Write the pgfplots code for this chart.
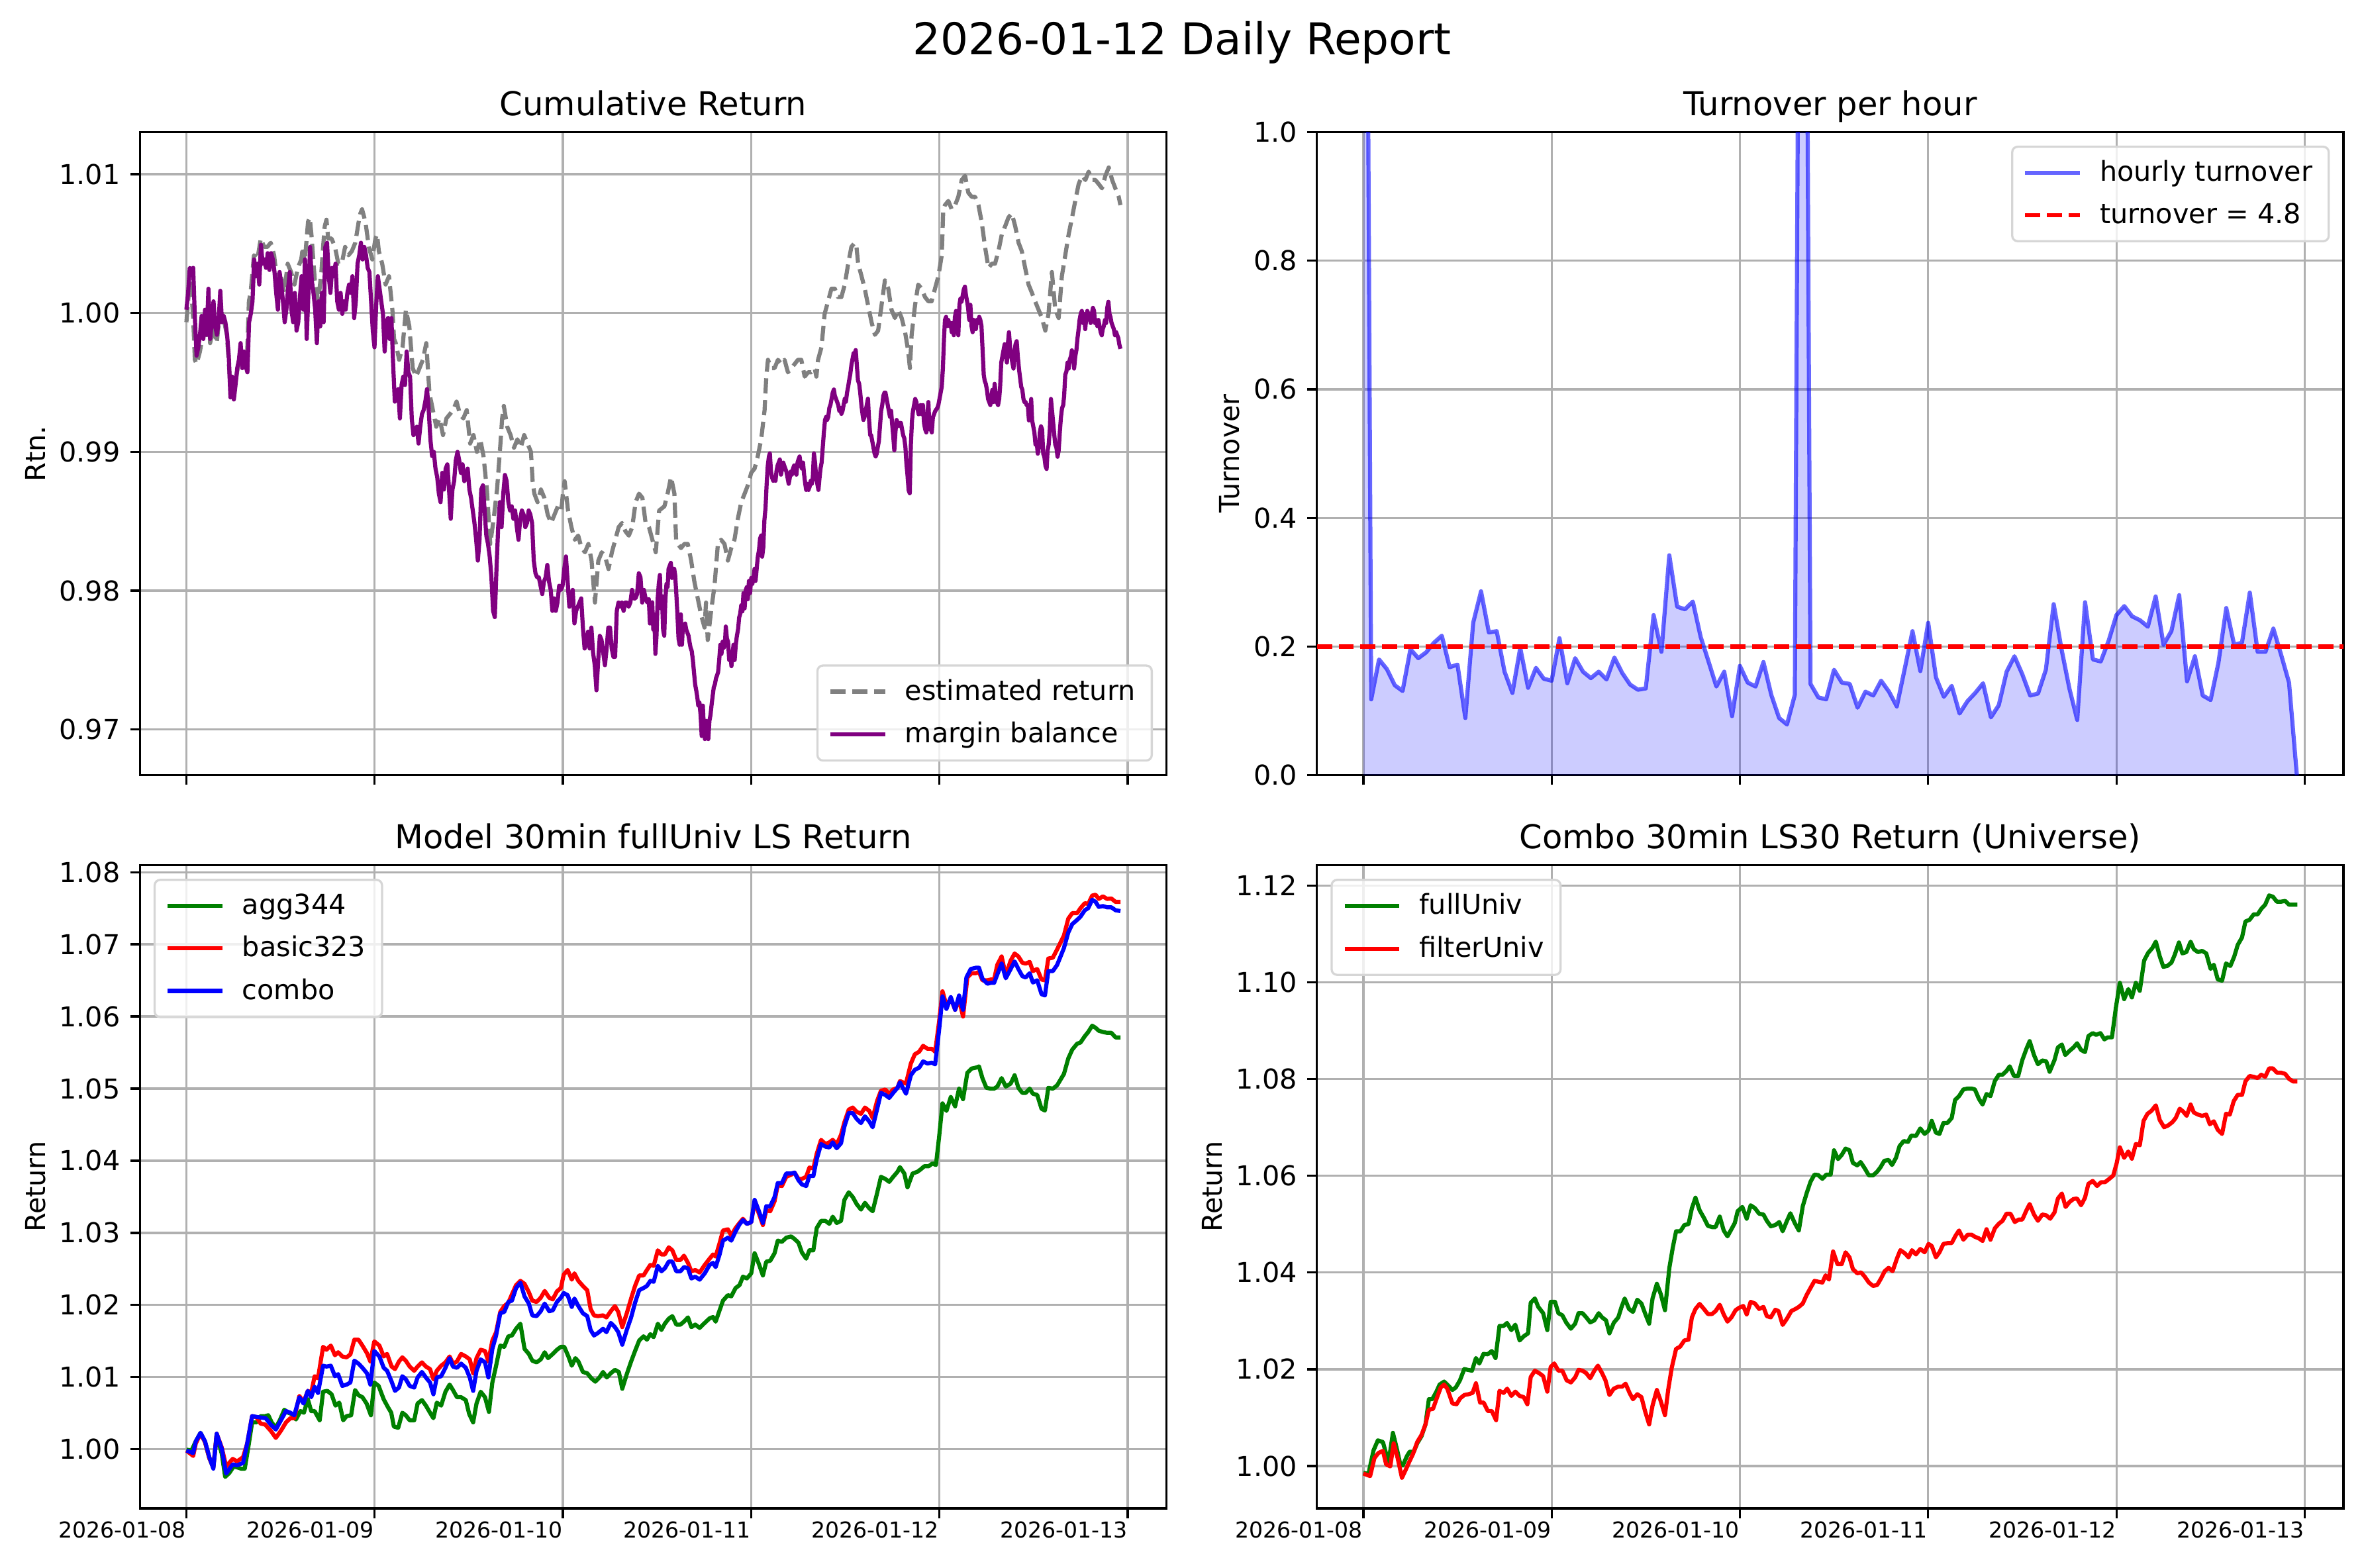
\documentclass[border=0pt]{standalone}
\usepackage{fontspec}
\setmainfont{DejaVu Sans}
\usepackage{pgfplots}
\usepackage{pgfplotstable}
\pgfplotsset{compat=1.18}

\definecolor{gridgray}{HTML}{B0B0B0}
\definecolor{mplpurple}{HTML}{800080}
\definecolor{mplgray}{HTML}{808080}
\definecolor{mplgreen}{HTML}{008000}
\definecolor{legframe}{HTML}{D6D6D6}

% ---------- Cumulative Return ----------
\pgfplotstableread{
d v
0.000 0.99934
0.009 1.00084
0.018 1.00235
0.027 1.00145
0.036 0.99964
0.045 0.99663
0.054 0.99633
0.072 0.99723
0.090 0.99873
0.099 0.99964
0.108 0.99813
0.117 1.00054
0.126 0.99783
0.135 0.99843
0.143 0.99994
0.152 0.99843
0.161 0.99783
0.179 1.00024
0.197 0.99964
0.215 0.99843
0.233 0.99482
0.251 0.99422
0.269 0.99573
0.287 0.99723
0.305 0.99663
0.323 0.99723
0.332 1.00084
0.341 1.00145
0.359 1.00416
0.377 1.00386
0.395 1.00536
0.413 1.00476
0.430 1.00476
0.448 1.00506
0.466 1.00416
0.484 1.00205
0.502 1.00265
0.520 1.00145
0.538 1.00355
0.556 1.00295
0.574 1.00205
0.592 1.00325
0.610 1.00386
0.619 1.00476
0.628 1.00355
0.646 1.00656
0.655 1.00687
0.664 1.00566
0.682 1.00235
0.700 1.00084
0.717 1.00295
0.726 1.00476
0.735 1.00626
0.744 1.00672
0.753 1.00536
0.771 1.00536
0.789 1.00476
0.807 1.00355
0.825 1.00355
0.843 1.00476
0.861 1.00416
0.879 1.00446
0.897 1.00506
0.915 1.00656
0.924 1.00717
0.933 1.00747
0.951 1.00656
0.969 1.00476
0.987 1.00386
1.004 1.00536
1.013 1.00566
1.022 1.00446
1.040 1.00355
1.058 1.00205
1.076 1.00265
1.094 1.00024
1.103 0.99813
1.112 0.99783
1.130 0.99663
1.148 0.99753
1.166 1.00024
1.184 0.99904
1.202 0.99603
1.220 0.99542
1.238 0.99603
1.256 0.99663
1.274 0.99783
1.291 0.99422
1.309 0.99301
1.327 0.99181
1.345 0.99241
1.363 0.99121
1.381 0.99241
1.399 0.99271
1.417 0.99301
1.435 0.99362
1.453 0.99271
1.471 0.99241
1.489 0.99301
1.507 0.99060
1.525 0.99121
1.543 0.99000
1.561 0.99090
1.578 0.98970
1.596 0.98729
1.614 0.98337
1.632 0.98518
1.650 0.98729
1.668 0.99060
1.677 0.99241
1.686 0.99331
1.704 0.99181
1.722 0.99121
1.740 0.99030
1.758 0.99090
1.776 0.99030
1.794 0.99121
1.812 0.99060
1.830 0.99000
1.839 0.98789
1.848 0.98699
1.865 0.98638
1.883 0.98729
1.901 0.98669
1.919 0.98548
1.937 0.98488
1.955 0.98548
1.973 0.98608
1.991 0.98578
2.000 0.98699
2.009 0.98789
2.027 0.98578
2.045 0.98458
2.063 0.98367
2.081 0.98397
2.099 0.98307
2.117 0.98277
2.135 0.98337
2.152 0.98217
2.170 0.97915
2.188 0.98217
2.206 0.98277
2.224 0.98247
2.242 0.98156
2.260 0.98277
2.278 0.98367
2.296 0.98458
2.314 0.98488
2.332 0.98428
2.350 0.98397
2.368 0.98458
2.386 0.98638
2.404 0.98699
2.422 0.98669
2.439 0.98488
2.457 0.98458
2.475 0.98367
2.493 0.98277
2.511 0.98578
2.539 0.98608
2.556 0.98699
2.574 0.98819
2.592 0.98699
2.601 0.98367
2.610 0.98337
2.627 0.98307
2.645 0.98337
2.663 0.98337
2.681 0.98217
2.698 0.98066
2.716 0.97945
2.734 0.97825
2.752 0.97735
2.760 0.97915
2.769 0.97645
2.787 0.97855
2.805 0.98036
2.823 0.98337
2.840 0.98367
2.858 0.98337
2.876 0.98217
2.894 0.98307
2.911 0.98367
2.929 0.98518
2.947 0.98638
2.965 0.98699
2.982 0.98759
3.000 0.98849
3.018 0.98880
3.035 0.98970
3.053 0.99090
3.071 0.99301
3.080 0.99542
3.089 0.99663
3.106 0.99603
3.124 0.99603
3.142 0.99663
3.160 0.99633
3.177 0.99663
3.195 0.99573
3.213 0.99603
3.231 0.99633
3.248 0.99663
3.266 0.99663
3.284 0.99542
3.302 0.99573
3.319 0.99573
3.337 0.99603
3.346 0.99542
3.355 0.99663
3.373 0.99753
3.390 0.99994
3.408 1.00084
3.426 1.00175
3.444 1.00175
3.461 1.00115
3.479 1.00115
3.497 1.00205
3.515 1.00355
3.532 1.00476
3.550 1.00506
3.559 1.00476
3.568 1.00355
3.586 1.00265
3.603 1.00175
3.621 1.00054
3.639 0.99934
3.657 0.99843
3.674 0.99873
3.692 1.00054
3.710 1.00235
3.728 1.00175
3.745 1.00024
3.763 0.99964
3.781 1.00024
3.799 0.99964
3.816 0.99873
3.834 0.99723
3.843 0.99603
3.852 0.99843
3.870 1.00054
3.887 1.00205
3.905 1.00175
3.923 1.00115
3.941 1.00084
3.958 1.00084
3.976 1.00175
3.994 1.00265
4.012 1.00416
4.020 1.00747
4.029 1.00777
4.047 1.00807
4.065 1.00747
4.083 1.00777
4.100 1.00837
4.118 1.00958
4.136 1.00988
4.153 1.00867
4.171 1.00837
4.189 1.00837
4.207 1.00777
4.224 1.00656
4.242 1.00476
4.260 1.00325
4.278 1.00355
4.295 1.00355
4.313 1.00446
4.331 1.00566
4.349 1.00626
4.366 1.00687
4.384 1.00717
4.402 1.00626
4.420 1.00506
4.437 1.00446
4.455 1.00325
4.473 1.00205
4.491 1.00145
4.508 1.00084
4.526 1.00024
4.544 0.99964
4.562 0.99873
4.579 0.99994
4.597 1.00295
4.615 1.00024
4.633 0.99964
4.650 1.00265
4.668 1.00416
4.686 1.00566
4.704 1.00687
4.721 1.00807
4.739 1.00928
4.757 1.00988
4.775 1.00958
4.792 1.01018
4.810 1.00958
4.828 1.00958
4.846 1.00928
4.863 1.00898
4.881 1.00988
4.899 1.01048
4.917 1.00958
4.934 1.00898
4.952 1.00837
4.961 1.00777
}\tlgray

\pgfplotstableread{
d v
0.000 1.00024
0.009 1.00145
0.018 1.00325
0.027 1.00310
0.036 1.00325
0.045 0.99964
0.054 0.99693
0.063 0.99753
0.072 0.99843
0.081 0.99979
0.090 0.99813
0.099 1.00024
0.108 0.99843
0.117 1.00175
0.126 0.99813
0.135 0.99934
0.144 1.00084
0.153 0.99904
0.162 0.99843
0.171 0.99934
0.180 1.00160
0.189 0.99934
0.198 0.99979
0.207 0.99934
0.216 0.99843
0.225 0.99693
0.234 0.99392
0.243 0.99542
0.252 0.99377
0.261 0.99482
0.270 0.99603
0.279 0.99663
0.288 0.99783
0.297 0.99603
0.306 0.99723
0.315 0.99618
0.324 0.99573
0.333 0.99934
0.342 0.99994
0.351 1.00084
0.360 1.00386
0.369 1.00265
0.378 1.00355
0.387 1.00205
0.396 1.00491
0.405 1.00355
0.414 1.00386
0.423 1.00325
0.432 1.00431
0.441 1.00310
0.450 1.00431
0.459 1.00386
0.468 1.00295
0.477 1.00145
0.486 1.00024
0.495 1.00295
0.504 1.00205
0.513 1.00084
0.522 0.99934
0.531 1.00024
0.540 1.00175
0.549 1.00295
0.558 1.00024
0.567 0.99934
0.576 1.00145
0.585 0.99873
0.594 0.99934
0.603 1.00115
0.612 1.00265
0.621 1.00024
0.630 1.00386
0.639 0.99813
0.648 1.00145
0.657 1.00476
0.666 1.00235
0.675 1.00145
0.684 1.00024
0.693 0.99783
0.702 1.00084
0.711 0.99904
0.720 1.00145
0.729 0.99934
0.738 1.00476
0.747 1.00506
0.756 1.00265
0.765 1.00145
0.774 1.00325
0.783 1.00265
0.792 1.00355
0.801 1.00084
0.810 1.00024
0.819 1.00145
0.828 0.99994
0.837 1.00084
0.846 1.00024
0.855 1.00145
0.864 1.00205
0.873 1.00145
0.882 1.00265
0.891 0.99964
0.900 1.00084
0.909 1.00355
0.918 1.00416
0.927 1.00506
0.936 1.00386
0.945 1.00476
0.954 1.00416
0.963 1.00325
0.972 1.00295
0.981 1.00084
0.990 0.99873
0.999 0.99753
1.008 1.00054
1.017 1.00265
1.026 1.00175
1.035 1.00084
1.044 0.99994
1.053 0.99723
1.062 0.99934
1.071 0.99964
1.080 0.99813
1.089 0.99964
1.098 0.99633
1.107 0.99362
1.116 0.99392
1.125 0.99452
1.134 0.99241
1.143 0.99482
1.152 0.99542
1.161 0.99482
1.170 0.99723
1.179 0.99573
1.188 0.99542
1.197 0.99241
1.206 0.99121
1.215 0.99151
1.224 0.99181
1.233 0.99060
1.242 0.99181
1.251 0.99271
1.260 0.99301
1.269 0.99362
1.278 0.99452
1.287 0.99301
1.296 0.99090
1.305 0.98970
1.314 0.99000
1.323 0.98880
1.332 0.98819
1.341 0.98699
1.350 0.98638
1.359 0.98849
1.368 0.98729
1.377 0.98880
1.386 0.98910
1.395 0.98729
1.404 0.98518
1.413 0.98729
1.422 0.98789
1.431 0.98940
1.440 0.99000
1.449 0.98940
1.458 0.98849
1.467 0.98910
1.476 0.98789
1.485 0.98819
1.494 0.98880
1.503 0.98729
1.512 0.98669
1.521 0.98578
1.530 0.98488
1.539 0.98367
1.548 0.98217
1.557 0.98367
1.566 0.98729
1.575 0.98759
1.584 0.98578
1.593 0.98397
1.602 0.98337
1.611 0.98247
1.620 0.98096
1.629 0.97855
1.638 0.97810
1.647 0.98156
1.656 0.98458
1.665 0.98638
1.674 0.98458
1.683 0.98699
1.692 0.98834
1.701 0.98789
1.710 0.98638
1.719 0.98578
1.728 0.98608
1.737 0.98518
1.746 0.98578
1.755 0.98458
1.764 0.98367
1.773 0.98518
1.782 0.98578
1.791 0.98548
1.800 0.98458
1.809 0.98488
1.818 0.98578
1.827 0.98548
1.836 0.98488
1.845 0.98217
1.854 0.98126
1.863 0.98096
1.872 0.98096
1.881 0.98036
1.890 0.97976
1.899 0.98066
1.908 0.98096
1.917 0.98186
1.926 0.98066
1.935 0.98006
1.944 0.97855
1.953 0.97945
1.962 0.97855
1.971 0.97915
1.980 0.98036
1.989 0.98006
1.998 0.98036
2.007 0.98156
2.016 0.98247
2.025 0.98066
2.034 0.97885
2.043 0.97945
2.052 0.98006
2.061 0.97765
2.070 0.97855
2.079 0.97885
2.088 0.97915
2.097 0.97945
2.106 0.97735
2.115 0.97584
2.124 0.97614
2.133 0.97705
2.142 0.97584
2.151 0.97735
2.160 0.97554
2.169 0.97464
2.178 0.97283
2.187 0.97494
2.196 0.97675
2.205 0.97645
2.214 0.97554
2.223 0.97464
2.232 0.97584
2.241 0.97735
2.250 0.97735
2.259 0.97584
2.268 0.97524
2.277 0.97524
2.286 0.97855
2.295 0.97915
2.304 0.97885
2.313 0.97915
2.322 0.97855
2.331 0.97915
2.340 0.97915
2.349 0.97885
2.358 0.97915
2.367 0.98006
2.376 0.97945
2.385 0.97945
2.394 0.97976
2.403 0.98126
2.412 0.98096
2.421 0.97915
2.430 0.98006
2.439 0.97945
2.448 0.97915
2.456 0.97939
2.462 0.97764
2.468 0.97895
2.474 0.97917
2.480 0.97720
2.485 0.97830
2.491 0.97545
2.497 0.97676
2.503 0.97939
2.509 0.98049
2.515 0.98114
2.520 0.97873
2.526 0.97961
2.532 0.97720
2.538 0.97676
2.544 0.97939
2.550 0.98049
2.556 0.98027
2.561 0.98158
2.567 0.98179
2.573 0.98201
2.579 0.98092
2.585 0.98158
2.591 0.98158
2.596 0.98114
2.602 0.97983
2.608 0.97830
2.614 0.97655
2.620 0.97611
2.626 0.97830
2.632 0.97611
2.637 0.97742
2.643 0.97720
2.649 0.97764
2.655 0.97720
2.661 0.97698
2.667 0.97676
2.672 0.97633
2.678 0.97589
2.684 0.97567
2.690 0.97501
2.696 0.97414
2.702 0.97326
2.708 0.97282
2.713 0.97239
2.719 0.97173
2.725 0.97195
2.731 0.97107
2.737 0.96954
2.743 0.97173
2.748 0.97020
2.754 0.96932
2.760 0.97063
2.766 0.96976
2.772 0.96932
2.778 0.97063
2.784 0.97107
2.789 0.97173
2.795 0.97239
2.801 0.97304
2.807 0.97326
2.813 0.97370
2.819 0.97392
2.824 0.97414
2.830 0.97501
2.836 0.97611
2.842 0.97545
2.848 0.97633
2.854 0.97589
2.860 0.97611
2.865 0.97742
2.871 0.97655
2.877 0.97633
2.883 0.97501
2.889 0.97545
2.895 0.97457
2.901 0.97545
2.906 0.97611
2.912 0.97501
2.918 0.97611
2.924 0.97676
2.930 0.97720
2.936 0.97808
2.941 0.97830
2.947 0.97895
2.953 0.97851
2.959 0.97983
2.965 0.97873
2.971 0.98005
2.977 0.98027
2.982 0.97939
2.988 0.98071
2.994 0.97983
3.000 0.98092
3.006 0.98049
3.012 0.98092
3.018 0.98158
3.023 0.98071
3.029 0.98158
3.035 0.98245
3.041 0.98289
3.047 0.98376
3.053 0.98398
3.058 0.98245
3.064 0.98311
3.070 0.98508
3.076 0.98595
3.082 0.98770
3.088 0.98902
3.094 0.98967
3.099 0.98989
3.105 0.98858
3.111 0.98814
3.117 0.98792
3.123 0.98814
3.129 0.98792
3.134 0.98858
3.140 0.98902
3.146 0.98923
3.152 0.98945
3.158 0.98836
3.164 0.98880
3.170 0.98923
3.175 0.98902
3.181 0.98880
3.187 0.98858
3.193 0.98814
3.199 0.98770
3.205 0.98814
3.210 0.98858
3.216 0.98836
3.222 0.98880
3.228 0.98902
3.234 0.98858
3.240 0.98836
3.246 0.98923
3.251 0.98945
3.257 0.98967
3.263 0.98902
3.269 0.98880
3.275 0.98923
3.281 0.98836
3.287 0.98770
3.292 0.98726
3.298 0.98770
3.304 0.98726
3.310 0.98748
3.316 0.98792
3.322 0.98770
3.327 0.98814
3.333 0.98989
3.339 0.98923
3.345 0.98814
3.351 0.98770
3.357 0.98726
3.363 0.98814
3.368 0.98880
3.374 0.98923
3.380 0.99033
3.386 0.99142
3.392 0.99230
3.398 0.99252
3.403 0.99230
3.409 0.99252
3.415 0.99317
3.421 0.99339
3.427 0.99383
3.433 0.99427
3.439 0.99449
3.444 0.99405
3.450 0.99383
3.456 0.99361
3.462 0.99339
3.468 0.99295
3.474 0.99317
3.479 0.99274
3.485 0.99295
3.491 0.99339
3.497 0.99383
3.503 0.99361
3.509 0.99427
3.515 0.99470
3.520 0.99514
3.526 0.99558
3.532 0.99624
3.538 0.99668
3.544 0.99711
3.550 0.99711
3.555 0.99733
3.561 0.99624
3.567 0.99514
3.573 0.99492
3.579 0.99427
3.585 0.99339
3.591 0.99274
3.596 0.99230
3.602 0.99252
3.608 0.99295
3.614 0.99339
3.620 0.99383
3.626 0.99230
3.632 0.99120
3.637 0.99120
3.643 0.99077
3.649 0.99033
3.655 0.98989
3.661 0.98967
3.667 0.98989
3.672 0.99033
3.678 0.99077
3.684 0.99186
3.690 0.99295
3.696 0.99339
3.702 0.99405
3.708 0.99427
3.713 0.99427
3.719 0.99383
3.725 0.99339
3.731 0.99295
3.737 0.99252
3.743 0.99295
3.748 0.99208
3.754 0.99120
3.760 0.99011
3.766 0.99142
3.772 0.99230
3.778 0.99208
3.784 0.99186
3.789 0.99208
3.795 0.99208
3.801 0.99164
3.807 0.99120
3.813 0.99098
3.819 0.99033
3.824 0.98923
3.830 0.98834
3.836 0.98724
3.842 0.98702
3.848 0.99052
3.854 0.99227
3.859 0.99293
3.865 0.99337
3.871 0.99381
3.877 0.99359
3.883 0.99315
3.889 0.99271
3.895 0.99293
3.900 0.99337
3.906 0.99271
3.912 0.99337
3.918 0.99206
3.924 0.99162
3.930 0.99140
3.936 0.99271
3.941 0.99359
3.947 0.99162
3.953 0.99206
3.959 0.99140
3.965 0.99249
3.971 0.99271
3.977 0.99293
3.982 0.99304
3.988 0.99315
3.994 0.99337
4.000 0.99381
4.006 0.99425
4.012 0.99469
4.018 0.99600
4.024 0.99818
4.029 0.99950
4.035 0.99972
4.041 0.99906
4.047 0.99950
4.053 0.99906
4.059 0.99928
4.065 0.99862
4.070 0.99928
4.076 0.99840
4.082 0.99972
4.088 1.00015
4.094 0.99993
4.100 0.99840
4.106 1.00059
4.111 1.00103
4.117 1.00081
4.123 1.00125
4.129 1.00169
4.135 1.00190
4.141 1.00125
4.147 1.00081
4.152 1.00037
4.158 0.99950
4.164 1.00059
4.170 0.99906
4.176 0.99862
4.182 0.99950
4.188 0.99928
4.193 0.99884
4.199 0.99950
4.205 0.99928
4.211 0.99972
4.217 0.99950
4.223 0.99906
4.229 0.99731
4.235 0.99556
4.240 0.99512
4.246 0.99490
4.252 0.99447
4.258 0.99381
4.264 0.99359
4.270 0.99337
4.276 0.99403
4.281 0.99447
4.287 0.99359
4.293 0.99490
4.299 0.99403
4.305 0.99359
4.311 0.99337
4.317 0.99381
4.322 0.99469
4.328 0.99643
4.334 0.99687
4.340 0.99731
4.346 0.99775
4.352 0.99709
4.358 0.99643
4.363 0.99775
4.369 0.99862
4.375 0.99753
4.381 0.99687
4.387 0.99643
4.393 0.99600
4.399 0.99731
4.404 0.99775
4.410 0.99797
4.416 0.99687
4.422 0.99600
4.428 0.99534
4.434 0.99469
4.440 0.99447
4.446 0.99381
4.451 0.99359
4.457 0.99359
4.463 0.99337
4.469 0.99337
4.475 0.99227
4.481 0.99249
4.487 0.99381
4.492 0.99227
4.498 0.99184
4.504 0.99140
4.510 0.99052
4.516 0.99074
4.522 0.98987
4.528 0.99031
4.533 0.99140
4.539 0.99184
4.545 0.99162
4.551 0.98987
4.557 0.98965
4.563 0.98899
4.569 0.98877
4.574 0.99009
4.580 0.99052
4.586 0.99162
4.592 0.99381
4.598 0.99293
4.604 0.99206
4.610 0.99118
4.615 0.99052
4.621 0.99031
4.627 0.98965
4.633 0.99009
4.639 0.99140
4.645 0.99249
4.651 0.99315
4.657 0.99337
4.662 0.99403
4.668 0.99556
4.674 0.99578
4.680 0.99643
4.686 0.99600
4.692 0.99665
4.698 0.99687
4.703 0.99731
4.709 0.99709
4.715 0.99600
4.721 0.99687
4.727 0.99731
4.733 0.99818
4.739 0.99884
4.744 0.99950
4.750 0.99993
4.756 1.00015
4.762 0.99928
4.768 0.99993
4.774 0.99884
4.780 0.99972
4.785 1.00015
4.791 0.99993
4.797 0.99972
4.803 0.99928
4.809 0.99993
4.815 1.00037
4.821 1.00015
4.826 0.99928
4.832 0.99950
4.838 0.99906
4.844 0.99950
4.850 0.99906
4.856 0.99862
4.862 0.99840
4.867 0.99884
4.873 0.99906
4.879 0.99950
4.885 0.99928
4.891 1.00037
4.897 1.00081
4.903 0.99993
4.908 0.99972
4.914 0.99928
4.920 0.99906
4.926 0.99884
4.932 0.99840
4.938 0.99862
4.944 0.99840
4.950 0.99818
4.955 0.99775
4.961 0.99742
}\tlpurple

% ---------- Turnover per hour ----------
\pgfplotstableread{
d t
0.0000 2.5
0.0417 0.118
0.0833 0.180
0.1250 0.165
0.1667 0.140
0.2083 0.131
0.2500 0.196
0.2917 0.182
0.3333 0.191
0.3750 0.206
0.4167 0.217
0.4583 0.168
0.5000 0.172
0.5417 0.089
0.5833 0.237
0.6250 0.286
0.6667 0.222
0.7083 0.224
0.7500 0.161
0.7917 0.128
0.8333 0.198
0.8750 0.136
0.9167 0.167
0.9583 0.150
1.0000 0.147
1.0417 0.213
1.0833 0.143
1.1250 0.182
1.1667 0.161
1.2083 0.151
1.2500 0.161
1.2917 0.149
1.3333 0.183
1.3750 0.159
1.4167 0.141
1.4583 0.133
1.5000 0.135
1.5417 0.249
1.5833 0.192
1.6250 0.342
1.6667 0.262
1.7083 0.258
1.7500 0.270
1.7917 0.215
1.8333 0.177
1.8750 0.138
1.9167 0.161
1.9583 0.092
2.0000 0.170
2.0417 0.144
2.0833 0.138
2.1250 0.176
2.1667 0.125
2.2083 0.089
2.2500 0.079
2.2917 0.125
2.3333 2.5
2.3750 0.142
2.4167 0.121
2.4583 0.118
2.5000 0.164
2.5417 0.144
2.5833 0.142
2.6250 0.105
2.6667 0.130
2.7083 0.124
2.7500 0.147
2.7917 0.130
2.8333 0.107
2.8750 0.165
2.9167 0.224
2.9583 0.162
3.0000 0.237
3.0417 0.152
3.0833 0.122
3.1250 0.139
3.1667 0.096
3.2083 0.115
3.2500 0.128
3.2917 0.143
3.3333 0.090
3.3750 0.109
3.4167 0.161
3.4583 0.185
3.5000 0.157
3.5417 0.124
3.5833 0.127
3.6250 0.164
3.6667 0.266
3.7083 0.196
3.7500 0.135
3.7917 0.086
3.8333 0.269
3.8750 0.180
3.9167 0.177
3.9583 0.209
4.0000 0.249
4.0417 0.263
4.0833 0.247
4.1250 0.241
4.1667 0.231
4.2083 0.278
4.2500 0.203
4.2917 0.224
4.3333 0.280
4.3750 0.146
4.4167 0.185
4.4583 0.124
4.5000 0.117
4.5417 0.175
4.5833 0.260
4.6250 0.203
4.6667 0.206
4.7083 0.284
4.7500 0.192
4.7917 0.192
4.8333 0.228
4.8750 0.187
4.9167 0.144
4.9583 0
}\turn

% ---------- Model 30min fullUniv LS Return ----------
\pgfplotstableread{
d v
0 0.99994
0.027 0.99982
0.050 1.00110
0.075 1.00227
0.099 1.00099
0.122 0.99874
0.143 0.99749
0.161 1.00198
0.188 0.99936
0.206 0.99616
0.229 0.99674
0.251 0.99761
0.269 0.99749
0.290 0.99731
0.310 0.99731
0.332 1.00081
0.349 1.00372
0.373 1.00372
0.394 1.00459
0.418 1.00459
0.435 1.00471
0.453 1.00372
0.475 1.00297
0.498 1.00413
0.520 1.00547
0.541 1.00506
0.559 1.00489
0.582 1.00413
0.606 1.00529
0.624 1.00506
0.645 1.00692
0.663 1.00529
0.681 1.00529
0.708 1.00401
0.726 1.00797
0.749 1.00809
0.771 1.00762
0.792 1.00605
0.812 1.00646
0.833 1.00401
0.851 1.00459
0.875 1.00471
0.896 1.00820
0.914 1.00750
0.935 1.00721
0.957 1.00634
0.980 1.00471
0.998 1.00925
1.021 1.00878
1.048 1.00692
1.072 1.00576
1.088 1.00506
1.102 1.00314
1.125 1.00297
1.147 1.00506
1.165 1.00471
1.186 1.00401
1.210 1.00401
1.228 1.00634
1.251 1.00681
1.272 1.00605
1.294 1.00506
1.312 1.00430
1.330 1.00646
1.353 1.00605
1.376 1.00797
1.398 1.00896
1.416 1.00820
1.437 1.00721
1.459 1.00721
1.484 1.00681
1.502 1.00489
1.523 1.00372
1.541 1.00634
1.563 1.00797
1.586 1.00721
1.607 1.00518
1.625 1.00925
1.645 1.01158
1.667 1.01437
1.688 1.01420
1.710 1.01565
1.729 1.01577
1.751 1.01670
1.774 1.01740
1.796 1.01391
1.819 1.01321
1.837 1.01228
1.860 1.01204
1.882 1.01245
1.903 1.01344
1.921 1.01263
1.946 1.01321
1.968 1.01379
1.989 1.01420
2.007 1.01420
2.029 1.01286
2.047 1.01158
2.066 1.01263
2.082 1.01216
2.106 1.01071
2.129 1.01053
2.151 1.00983
2.172 1.00937
2.194 1.00995
2.213 1.01071
2.233 1.00995
2.254 1.01053
2.276 1.01100
2.297 1.01071
2.315 1.00838
2.339 1.01041
2.362 1.01216
2.383 1.01362
2.405 1.01507
2.428 1.01565
2.446 1.01519
2.464 1.01595
2.482 1.01554
2.504 1.01740
2.523 1.01653
2.541 1.01740
2.562 1.01810
2.581 1.01845
2.602 1.01728
2.624 1.01728
2.643 1.01769
2.664 1.01827
2.682 1.01693
2.703 1.01728
2.726 1.01682
2.753 1.01751
2.779 1.01815
2.797 1.01833
2.811 1.01769
2.832 1.01926
2.850 1.02060
2.876 1.02136
2.894 1.02119
2.917 1.02235
2.938 1.02276
2.956 1.02392
2.977 1.02368
3.000 1.02438
3.018 1.02718
3.041 1.02566
3.062 1.02409
3.080 1.02601
3.101 1.02613
3.124 1.02718
3.141 1.02892
3.163 1.02875
3.186 1.02933
3.212 1.02950
3.230 1.02915
3.251 1.02863
3.269 1.02729
3.292 1.02642
3.309 1.02758
3.330 1.02758
3.348 1.03067
3.371 1.03166
3.394 1.03166
3.415 1.03125
3.433 1.03224
3.454 1.03137
3.477 1.03166
3.495 1.03457
3.518 1.03562
3.539 1.03498
3.560 1.03399
3.583 1.03323
3.604 1.03416
3.627 1.03340
3.645 1.03300
3.668 1.03544
3.689 1.03777
3.712 1.03748
3.733 1.03707
3.754 1.03777
3.777 1.03847
3.790 1.03911
3.813 1.03823
3.830 1.03631
3.857 1.03823
3.883 1.03847
3.901 1.03882
3.919 1.03923
3.942 1.03923
3.963 1.03963
3.981 1.03940
3.998 1.04330
4.016 1.04795
4.037 1.04691
4.060 1.04883
4.083 1.04754
4.104 1.04999
4.125 1.04853
4.148 1.05220
4.171 1.05278
4.193 1.05290
4.210 1.05307
4.228 1.05145
4.249 1.05011
4.272 1.04999
4.290 1.04999
4.307 1.05028
4.330 1.05145
4.352 1.05028
4.378 1.05069
4.399 1.05185
4.419 1.05011
4.440 1.04941
4.458 1.04941
4.479 1.04999
4.496 1.04929
4.519 1.04912
4.542 1.04720
4.560 1.04696
4.578 1.05011
4.602 1.04999
4.625 1.05046
4.661 1.05203
4.684 1.05418
4.705 1.05540
4.731 1.05622
4.749 1.05639
4.772 1.05727
4.790 1.05785
4.811 1.05872
4.829 1.05843
4.846 1.05802
4.868 1.05785
4.890 1.05773
4.913 1.05773
4.935 1.05710
4.961 1.05710
}\blgreen

\pgfplotstableread{
d v
0 0.99982
0.036 0.99907
0.050 1.00081
0.075 1.00215
0.099 1.00099
0.122 0.99874
0.143 0.99749
0.161 1.00215
0.188 1.00023
0.211 0.99761
0.246 0.99866
0.269 0.99831
0.301 0.99889
0.323 1.00081
0.349 1.00459
0.373 1.00442
0.394 1.00355
0.418 1.00343
0.448 1.00256
0.475 1.00157
0.502 1.00256
0.529 1.00372
0.552 1.00430
0.573 1.00430
0.600 1.00739
0.622 1.00651
0.645 1.00809
0.663 1.00780
0.681 1.01012
0.699 1.00983
0.726 1.01420
0.744 1.01379
0.767 1.01437
0.789 1.01303
0.806 1.01344
0.828 1.01286
0.851 1.01274
0.871 1.01315
0.892 1.01519
0.914 1.01519
0.935 1.01437
0.959 1.01332
0.977 1.01216
0.998 1.01495
1.025 1.01437
1.048 1.01286
1.066 1.01321
1.090 1.01146
1.108 1.01111
1.129 1.01216
1.147 1.01274
1.165 1.01228
1.186 1.01146
1.210 1.01088
1.228 1.01146
1.251 1.01204
1.272 1.01146
1.294 1.01111
1.312 1.00972
1.330 1.01088
1.353 1.01158
1.376 1.01204
1.398 1.01286
1.416 1.01187
1.437 1.01216
1.459 1.01321
1.484 1.01286
1.505 1.01245
1.523 1.01053
1.541 1.01263
1.563 1.01379
1.586 1.01362
1.604 1.01216
1.625 1.01507
1.645 1.01623
1.667 1.01903
1.688 1.01984
1.710 1.02031
1.729 1.02147
1.751 1.02275
1.774 1.02334
1.796 1.02293
1.819 1.02176
1.837 1.02060
1.860 1.02042
1.882 1.02101
1.903 1.02194
1.927 1.02101
1.946 1.02077
1.968 1.02188
1.989 1.02235
2.004 1.02421
2.025 1.02485
2.047 1.02351
2.061 1.02438
2.082 1.02334
2.106 1.02264
2.129 1.02205
2.147 1.01944
2.165 1.01856
2.186 1.01845
2.213 1.01856
2.231 1.01827
2.254 1.01914
2.276 1.01984
2.294 1.01903
2.315 1.01693
2.339 1.01885
2.362 1.02089
2.383 1.02264
2.405 1.02409
2.428 1.02409
2.446 1.02485
2.464 1.02555
2.482 1.02543
2.504 1.02758
2.523 1.02700
2.541 1.02700
2.562 1.02799
2.581 1.02758
2.602 1.02624
2.624 1.02624
2.643 1.02683
2.664 1.02584
2.682 1.02467
2.703 1.02485
2.726 1.02450
2.753 1.02555
2.779 1.02642
2.797 1.02700
2.811 1.02671
2.832 1.02857
2.850 1.03032
2.876 1.03049
2.894 1.02962
2.917 1.03067
2.938 1.03137
2.956 1.03195
2.977 1.03125
3.000 1.03148
3.018 1.03428
3.041 1.03265
3.062 1.03108
3.080 1.03312
3.101 1.03300
3.124 1.03439
3.141 1.03660
3.163 1.03649
3.186 1.03777
3.212 1.03806
3.230 1.03835
3.251 1.03748
3.269 1.03748
3.292 1.03777
3.309 1.03905
3.330 1.03893
3.348 1.04097
3.371 1.04289
3.394 1.04231
3.415 1.04254
3.433 1.04289
3.454 1.04225
3.477 1.04359
3.495 1.04533
3.518 1.04708
3.539 1.04737
3.560 1.04679
3.583 1.04650
3.604 1.04737
3.627 1.04691
3.645 1.04592
3.668 1.04824
3.689 1.04970
3.712 1.04987
3.733 1.04929
3.754 1.04987
3.777 1.05011
3.790 1.05104
3.822 1.05069
3.848 1.05348
3.869 1.05476
3.892 1.05511
3.913 1.05593
3.936 1.05552
3.959 1.05552
3.977 1.05511
3.998 1.05930
4.016 1.06349
4.037 1.06151
4.060 1.06250
4.083 1.06093
4.104 1.06233
4.125 1.06000
4.148 1.06541
4.171 1.06600
4.193 1.06600
4.210 1.06617
4.228 1.06501
4.254 1.06501
4.272 1.06512
4.290 1.06512
4.307 1.06716
4.330 1.06832
4.352 1.06570
4.378 1.06774
4.399 1.06873
4.419 1.06832
4.440 1.06745
4.458 1.06733
4.479 1.06757
4.496 1.06629
4.519 1.06658
4.542 1.06512
4.560 1.06501
4.578 1.06803
4.602 1.06815
4.625 1.06931
4.661 1.07123
4.684 1.07356
4.705 1.07432
4.731 1.07432
4.749 1.07502
4.772 1.07571
4.790 1.07560
4.811 1.07676
4.829 1.07688
4.846 1.07630
4.868 1.07665
4.890 1.07630
4.913 1.07635
4.935 1.07589
4.961 1.07589
}\blred

\pgfplotstableread{
d v
0 0.99982
0.036 0.99947
0.050 1.00110
0.075 1.00227
0.099 1.00110
0.122 0.99889
0.143 0.99731
0.161 1.00215
0.188 1.00005
0.211 0.99662
0.246 0.99790
0.269 0.99778
0.301 0.99808
0.323 1.00081
0.349 1.00459
0.373 1.00448
0.421 1.00430
0.448 1.00343
0.475 1.00273
0.502 1.00401
0.529 1.00529
0.552 1.00506
0.573 1.00471
0.600 1.00721
0.622 1.00634
0.645 1.00809
0.663 1.00721
0.681 1.00867
0.699 1.00780
0.726 1.01158
0.744 1.01146
0.767 1.01158
0.789 1.01012
0.806 1.01041
0.828 1.00878
0.851 1.00896
0.871 1.00925
0.892 1.01228
0.914 1.01187
0.935 1.01129
0.959 1.01053
0.977 1.00896
0.998 1.01362
1.025 1.01286
1.048 1.01129
1.066 1.01088
1.090 1.00937
1.108 1.00809
1.129 1.00855
1.147 1.01012
1.165 1.00972
1.186 1.00878
1.210 1.00855
1.228 1.00995
1.251 1.01071
1.272 1.00995
1.294 1.00925
1.312 1.00762
1.330 1.00995
1.353 1.01012
1.376 1.01129
1.398 1.01263
1.416 1.01146
1.437 1.01129
1.459 1.01187
1.484 1.01129
1.505 1.00995
1.523 1.00809
1.541 1.01088
1.563 1.01245
1.586 1.01204
1.604 1.00995
1.625 1.01391
1.645 1.01577
1.667 1.01885
1.688 1.01903
1.710 1.02042
1.729 1.02060
1.751 1.02235
1.774 1.02310
1.796 1.02118
1.819 1.02019
1.837 1.01856
1.860 1.01845
1.882 1.01914
1.903 1.02019
1.927 1.01914
1.946 1.01926
1.968 1.02042
1.989 1.02101
2.004 1.02165
2.025 1.02136
2.047 1.01973
2.061 1.02089
2.082 1.01984
2.106 1.01885
2.129 1.01845
2.147 1.01653
2.165 1.01577
2.186 1.01612
2.213 1.01670
2.231 1.01623
2.254 1.01751
2.276 1.01693
2.294 1.01623
2.315 1.01449
2.339 1.01653
2.362 1.01827
2.383 1.02031
2.405 1.02205
2.428 1.02235
2.446 1.02264
2.464 1.02334
2.482 1.02322
2.504 1.02543
2.523 1.02467
2.541 1.02508
2.562 1.02601
2.581 1.02601
2.602 1.02467
2.624 1.02467
2.643 1.02525
2.664 1.02508
2.682 1.02368
2.703 1.02392
2.726 1.02351
2.753 1.02438
2.779 1.02555
2.797 1.02584
2.811 1.02525
2.832 1.02700
2.850 1.02892
2.876 1.02933
2.894 1.02892
2.917 1.03020
2.938 1.03119
2.956 1.03177
2.977 1.03125
3.000 1.03148
3.018 1.03457
3.041 1.03300
3.062 1.03137
3.080 1.03369
3.101 1.03369
3.124 1.03497
3.141 1.03690
3.163 1.03690
3.186 1.03823
3.212 1.03823
3.230 1.03835
3.251 1.03730
3.269 1.03672
3.292 1.03649
3.309 1.03788
3.330 1.03788
3.348 1.04021
3.371 1.04231
3.394 1.04196
3.415 1.04184
3.433 1.04254
3.454 1.04173
3.477 1.04242
3.495 1.04475
3.518 1.04661
3.539 1.04661
3.560 1.04580
3.583 1.04522
3.604 1.04615
3.627 1.04545
3.645 1.04464
3.668 1.04708
3.689 1.04941
3.712 1.04912
3.733 1.04871
3.754 1.04941
3.777 1.05011
3.790 1.05087
3.822 1.04929
3.848 1.05185
3.869 1.05261
3.892 1.05290
3.913 1.05377
3.936 1.05348
3.959 1.05360
3.977 1.05337
3.998 1.05814
4.016 1.06279
4.037 1.06105
4.060 1.06268
4.083 1.06093
4.104 1.06291
4.125 1.06093
4.143 1.06541
4.166 1.06658
4.193 1.06675
4.210 1.06675
4.228 1.06524
4.254 1.06454
4.272 1.06466
4.290 1.06466
4.307 1.06582
4.330 1.06733
4.352 1.06530
4.378 1.06658
4.399 1.06763
4.419 1.06658
4.440 1.06559
4.458 1.06541
4.479 1.06600
4.496 1.06471
4.519 1.06501
4.542 1.06309
4.560 1.06291
4.578 1.06629
4.602 1.06629
4.625 1.06716
4.661 1.06949
4.684 1.07164
4.705 1.07280
4.731 1.07339
4.749 1.07385
4.772 1.07473
4.790 1.07502
4.811 1.07618
4.829 1.07589
4.846 1.07519
4.868 1.07531
4.890 1.07513
4.913 1.07513
4.935 1.07473
4.961 1.07461
}\blblue

% ---------- Combo 30min LS30 Return (Universe) ----------
\pgfplotstableread{
d v
0 0.99861
0.027 0.99835
0.054 1.00322
0.077 1.00530
0.104 1.00495
0.116 1.00322
0.134 1.00078
0.157 1.00686
0.179 1.00339
0.196 1.00035
0.209 1.00009
0.232 1.00209
0.246 1.00296
0.268 1.00296
0.286 1.00469
0.309 1.00617
0.330 1.00860
0.348 1.01381
0.366 1.01381
0.388 1.01537
0.405 1.01684
0.429 1.01745
0.452 1.01658
0.473 1.01572
0.491 1.01624
0.513 1.01771
0.536 1.02006
0.554 1.01988
0.577 1.01971
0.598 1.02232
0.616 1.02119
0.638 1.02318
0.661 1.02310
0.682 1.02378
0.702 1.02232
0.723 1.02896
0.745 1.02896
0.763 1.02957
0.786 1.02810
0.807 1.02922
0.830 1.02596
0.852 1.02682
0.875 1.02743
0.889 1.03377
0.911 1.03464
0.929 1.03290
0.955 1.03160
0.977 1.02810
0.995 1.03394
1.018 1.03394
1.036 1.03160
1.057 1.03116
1.077 1.02969
1.102 1.02838
1.125 1.02943
1.143 1.03160
1.164 1.03160
1.184 1.03073
1.205 1.02969
1.227 1.03012
1.250 1.03160
1.268 1.03073
1.289 1.03012
1.307 1.02743
1.330 1.02961
1.354 1.03073
1.370 1.03273
1.388 1.03464
1.411 1.03247
1.432 1.03186
1.455 1.03438
1.477 1.03360
1.496 1.03160
1.518 1.02943
1.536 1.03464
1.559 1.03768
1.580 1.03551
1.602 1.03221
1.625 1.04089
1.643 1.04506
1.661 1.04853
1.684 1.04853
1.705 1.04983
1.727 1.05000
1.745 1.05330
1.764 1.05547
1.786 1.05287
1.809 1.05130
1.830 1.04966
1.852 1.04940
1.871 1.04940
1.893 1.05157
1.914 1.04870
1.934 1.04749
1.955 1.04896
1.973 1.05026
1.988 1.05269
2.013 1.05356
2.036 1.05113
2.057 1.05391
2.080 1.05330
2.102 1.05217
2.125 1.05200
2.143 1.05070
2.164 1.04957
2.188 1.04983
2.209 1.05044
2.227 1.04853
2.250 1.05070
2.268 1.05226
2.291 1.05026
2.313 1.04870
2.334 1.05374
2.354 1.05634
2.375 1.05877
2.396 1.06024
2.416 1.06016
2.438 1.05938
2.459 1.06024
2.482 1.06024
2.500 1.06528
2.521 1.06346
2.541 1.06433
2.561 1.06563
2.582 1.06528
2.600 1.06268
2.623 1.06216
2.641 1.06285
2.663 1.06155
2.685 1.06008
2.707 1.06008
2.729 1.06086
2.746 1.06172
2.767 1.06311
2.790 1.06328
2.808 1.06224
2.829 1.06372
2.848 1.06615
2.870 1.06719
2.893 1.06702
2.910 1.06832
2.935 1.06823
2.958 1.06979
2.981 1.06867
3.002 1.06936
3.019 1.07136
3.041 1.06893
3.060 1.06867
3.081 1.07092
3.102 1.07092
3.125 1.07196
3.143 1.07570
3.164 1.07648
3.187 1.07787
3.210 1.07804
3.231 1.07804
3.248 1.07787
3.270 1.07587
3.289 1.07474
3.310 1.07691
3.331 1.07648
3.354 1.07960
3.375 1.08090
3.395 1.08090
3.416 1.08169
3.433 1.08264
3.456 1.08064
3.478 1.08064
3.500 1.08394
3.522 1.08628
3.539 1.08785
3.562 1.08498
3.583 1.08307
3.606 1.08385
3.627 1.08368
3.645 1.08151
3.671 1.08394
3.689 1.08654
3.710 1.08715
3.728 1.08498
3.751 1.08585
3.772 1.08654
3.791 1.08741
3.812 1.08602
3.833 1.08559
3.851 1.08889
3.874 1.08950
3.892 1.08915
3.915 1.08950
3.936 1.08820
3.953 1.08863
3.976 1.08863
3.997 1.09479
4.018 1.09991
4.041 1.09653
4.063 1.09861
4.082 1.09688
4.103 1.09991
4.124 1.09826
4.147 1.10451
4.168 1.10608
4.191 1.10712
4.209 1.10842
4.230 1.10538
4.249 1.10321
4.270 1.10339
4.292 1.10408
4.309 1.10564
4.332 1.10825
4.350 1.10599
4.371 1.10625
4.394 1.10842
4.411 1.10686
4.433 1.10625
4.455 1.10651
4.477 1.10599
4.500 1.10278
4.517 1.10365
4.538 1.10061
4.561 1.10035
4.582 1.10391
4.605 1.10339
4.626 1.10538
4.644 1.10773
4.667 1.10929
4.685 1.11259
4.707 1.11293
4.729 1.11406
4.750 1.11406
4.769 1.11519
4.790 1.11606
4.811 1.11797
4.831 1.11771
4.852 1.11667
4.873 1.11667
4.896 1.11684
4.917 1.11606
4.938 1.11606
4.961 1.11606
}\brgreen

\pgfplotstableread{
d v
0 0.99844
0.036 0.99792
0.059 1.00165
0.080 1.00269
0.104 1.00313
0.121 1.00035
0.143 0.99992
0.161 1.00469
0.182 1.00165
0.205 0.99757
0.223 0.99905
0.245 1.00096
0.264 1.00252
0.286 1.00495
0.309 1.00643
0.330 1.00860
0.348 1.01164
0.370 1.01181
0.388 1.01381
0.411 1.01624
0.429 1.01684
0.446 1.01598
0.473 1.01294
0.495 1.01277
0.514 1.01398
0.536 1.01468
0.559 1.01485
0.580 1.01511
0.598 1.01711
0.620 1.01311
0.639 1.01311
0.661 1.01138
0.682 1.01138
0.705 1.00947
0.723 1.01554
0.745 1.01511
0.764 1.01598
0.786 1.01450
0.807 1.01537
0.830 1.01450
0.852 1.01424
0.871 1.01277
0.889 1.01840
0.911 1.01971
0.934 1.01919
0.955 1.01858
0.977 1.01537
0.995 1.02049
1.014 1.02119
1.036 1.01971
1.057 1.01971
1.080 1.01771
1.102 1.01728
1.125 1.01832
1.143 1.01988
1.164 1.01971
1.184 1.01919
1.205 1.01815
1.227 1.01971
1.246 1.02075
1.268 1.01919
1.286 1.01771
1.307 1.01468
1.330 1.01598
1.354 1.01641
1.375 1.01641
1.393 1.01702
1.414 1.01511
1.432 1.01381
1.455 1.01485
1.477 1.01424
1.496 1.01138
1.518 1.00860
1.536 1.01251
1.559 1.01572
1.580 1.01337
1.602 1.01051
1.620 1.01598
1.638 1.02032
1.661 1.02422
1.682 1.02466
1.705 1.02596
1.727 1.02613
1.745 1.03073
1.764 1.03247
1.786 1.03351
1.809 1.03247
1.830 1.03143
1.852 1.03143
1.871 1.03204
1.893 1.03334
1.914 1.03134
1.934 1.02986
1.955 1.03073
1.977 1.03221
1.996 1.03273
2.018 1.03308
2.036 1.03134
2.057 1.03394
2.080 1.03360
2.102 1.03247
2.125 1.03290
2.143 1.03099
2.164 1.03073
2.188 1.03230
2.205 1.03204
2.227 1.02917
2.250 1.03047
2.273 1.03204
2.295 1.03247
2.313 1.03290
2.334 1.03360
2.354 1.03533
2.375 1.03681
2.396 1.03828
2.416 1.03811
2.438 1.03794
2.455 1.03941
2.473 1.03855
2.495 1.04436
2.518 1.04176
2.541 1.04176
2.561 1.04419
2.582 1.04315
2.600 1.04072
2.623 1.03985
2.644 1.04002
2.663 1.03915
2.685 1.03794
2.707 1.03724
2.729 1.03742
2.750 1.03881
2.769 1.04028
2.790 1.04098
2.811 1.04028
2.834 1.04289
2.852 1.04462
2.875 1.04402
2.896 1.04315
2.914 1.04462
2.935 1.04375
2.958 1.04488
2.981 1.04419
3.002 1.04592
3.019 1.04549
3.041 1.04315
3.060 1.04419
3.081 1.04592
3.104 1.04610
3.125 1.04610
3.146 1.04766
3.164 1.04870
3.187 1.04679
3.210 1.04783
3.231 1.04783
3.248 1.04740
3.270 1.04705
3.289 1.04653
3.310 1.04896
3.331 1.04679
3.354 1.04914
3.375 1.05009
3.395 1.05070
3.416 1.05217
3.437 1.05217
3.460 1.05044
3.481 1.05096
3.500 1.05096
3.522 1.05287
3.539 1.05417
3.562 1.05200
3.583 1.05070
3.606 1.05200
3.627 1.05183
3.648 1.05113
3.671 1.05243
3.689 1.05530
3.710 1.05634
3.730 1.05356
3.751 1.05460
3.772 1.05521
3.791 1.05530
3.812 1.05391
3.833 1.05547
3.851 1.05834
3.874 1.05894
3.897 1.05790
3.918 1.05868
3.939 1.05868
3.962 1.05938
3.983 1.06007
4.001 1.06259
4.018 1.06589
4.041 1.06372
4.063 1.06502
4.082 1.06354
4.103 1.06658
4.124 1.06632
4.144 1.07136
4.165 1.07283
4.186 1.07344
4.209 1.07457
4.230 1.07153
4.253 1.07005
4.274 1.07040
4.297 1.07110
4.315 1.07196
4.336 1.07387
4.355 1.07327
4.373 1.07240
4.394 1.07474
4.411 1.07309
4.433 1.07266
4.455 1.07240
4.477 1.07266
4.496 1.07066
4.517 1.07127
4.538 1.06953
4.561 1.06866
4.582 1.07283
4.602 1.07266
4.623 1.07544
4.644 1.07674
4.667 1.07674
4.685 1.07952
4.707 1.08064
4.729 1.08047
4.750 1.08021
4.769 1.08090
4.790 1.08047
4.811 1.08221
4.831 1.08221
4.852 1.08134
4.873 1.08134
4.896 1.08108
4.917 1.08004
4.938 1.07952
4.961 1.07952
}\brred

\pgfplotsset{
  legend image code/.code={\draw[#1] (0pt,0pt) -- (20pt,0pt);},
  panel/.style={
    scale only axis,
    width=375pt, height=235pt,
    xmin=-0.247, xmax=5.206,
    xtick={0,1,2,3,4,5},
    tick pos=left,
    tick align=outside,
    major tick length=3.5pt,
    every tick/.append style={black, line width=0.8pt},
    axis line style={line width=0.8pt},
    grid=major,
    major grid style={gridgray, line width=0.8pt},
    /pgf/number format/assume math mode=true,
    yticklabel style={font=\fontsize{10}{12}\selectfont, anchor=east, inner sep=0pt, xshift=-3.5pt},
    xticklabel style={font=\fontsize{8}{9.6}\selectfont, anchor=north east, inner sep=0pt, yshift=-1.2pt},
    title style={font=\fontsize{12}{14.4}\selectfont, at={(0.5,1)}, anchor=base, inner sep=0pt},
    ylabel style={font=\fontsize{10}{12}\selectfont},
    ylabel shift=1.5pt,
    legend cell align=left,
    legend style={font=\fontsize{10}{12}\selectfont, draw=legframe, line width=0.8pt,
      rounded corners=2pt, fill=white, fill opacity=0.8, text opacity=1,
      inner xsep=4pt, inner ysep=3pt, row sep=2.5pt,
      /tikz/every odd column/.append style={column sep=4.5pt}},
  },
}

\begin{document}
\begin{tikzpicture}
\useasboundingbox (0pt,0pt) rectangle (863.5pt,572.7pt);
\node[anchor=base, font=\fontsize{16}{19.2}\selectfont, inner sep=0pt] at (431.75pt,552.7pt) {2026-01-12 Daily Report};

\begin{axis}[panel, at={(51.1pt,524.5pt)}, anchor=north west,
  ymin=0.96671, ymax=1.01304,
  ytick={0.97,0.98,0.99,1.00,1.01}, yticklabels={0.97,0.98,0.99,1.00,1.01},
  xticklabels={},
  title={Cumulative Return}, ylabel={Rtn.},
  legend style={at={(1,0)}, anchor=south east, xshift=-5pt, yshift=5pt}]
\addplot[mplgray, line width=1.5pt, line join=round, dash pattern=on 5.55pt off 2.4pt] table[x=d, y=v] {\tlgray};
\addlegendentry{estimated return}
\addplot[mplpurple, line width=1.5pt, line join=round] table[x=d, y=v] {\tlpurple};
\addlegendentry{margin balance}
\end{axis}

\begin{axis}[panel, at={(481.0pt,524.5pt)}, anchor=north west,
  ymin=0, ymax=1,
  ytick={0,0.2,0.4,0.6,0.8,1}, yticklabels={0.0,0.2,0.4,0.6,0.8,1.0},
  xticklabels={},
  title={Turnover per hour}, ylabel={Turnover},
  legend style={at={(1,1)}, anchor=north east, xshift=-5pt, yshift=-5pt}]
\addplot[draw=none, fill=blue, fill opacity=0.2, forget plot] table[x=d, y=t] {\turn} \closedcycle;
\addplot[blue, draw opacity=0.6, line width=1.5pt, line join=round] table[x=d, y=t] {\turn};
\addlegendentry{hourly turnover}
\addplot[red, line width=1.5pt, dash pattern=on 5.55pt off 2.4pt] coordinates {(-0.247,0.2) (5.206,0.2)};
\addlegendentry{turnover = 4.8}
\end{axis}

\begin{axis}[panel, at={(51.1pt,256.7pt)}, anchor=north west,
  ymin=0.99179, ymax=1.08099,
  ytick={1.00,1.01,1.02,1.03,1.04,1.05,1.06,1.07,1.08},
  yticklabels={1.00,1.01,1.02,1.03,1.04,1.05,1.06,1.07,1.08},
  xticklabels={2026-01-08,2026-01-09,2026-01-10,2026-01-11,2026-01-12,2026-01-13},
  title={Model 30min fullUniv LS Return}, ylabel={Return},
  legend style={at={(0,1)}, anchor=north west, xshift=5pt, yshift=-5pt}]
\addplot[mplgreen, line width=1.5pt, line join=round] table[x=d, y=v] {\blgreen};
\addlegendentry{agg344}
\addplot[red, line width=1.5pt, line join=round] table[x=d, y=v] {\blred};
\addlegendentry{basic323}
\addplot[blue, line width=1.5pt, line join=round] table[x=d, y=v] {\blblue};
\addlegendentry{combo}
\end{axis}

\begin{axis}[panel, at={(481.0pt,256.7pt)}, anchor=north west,
  ymin=0.99123, ymax=1.12425,
  ytick={1.00,1.02,1.04,1.06,1.08,1.10,1.12},
  yticklabels={1.00,1.02,1.04,1.06,1.08,1.10,1.12},
  xticklabels={2026-01-08,2026-01-09,2026-01-10,2026-01-11,2026-01-12,2026-01-13},
  title={Combo 30min LS30 Return (Universe)}, ylabel={Return},
  legend style={at={(0,1)}, anchor=north west, xshift=5pt, yshift=-5pt}]
\addplot[mplgreen, line width=1.5pt, line join=round] table[x=d, y=v] {\brgreen};
\addlegendentry{fullUniv}
\addplot[red, line width=1.5pt, line join=round] table[x=d, y=v] {\brred};
\addlegendentry{filterUniv}
\end{axis}
\end{tikzpicture}
\end{document}
